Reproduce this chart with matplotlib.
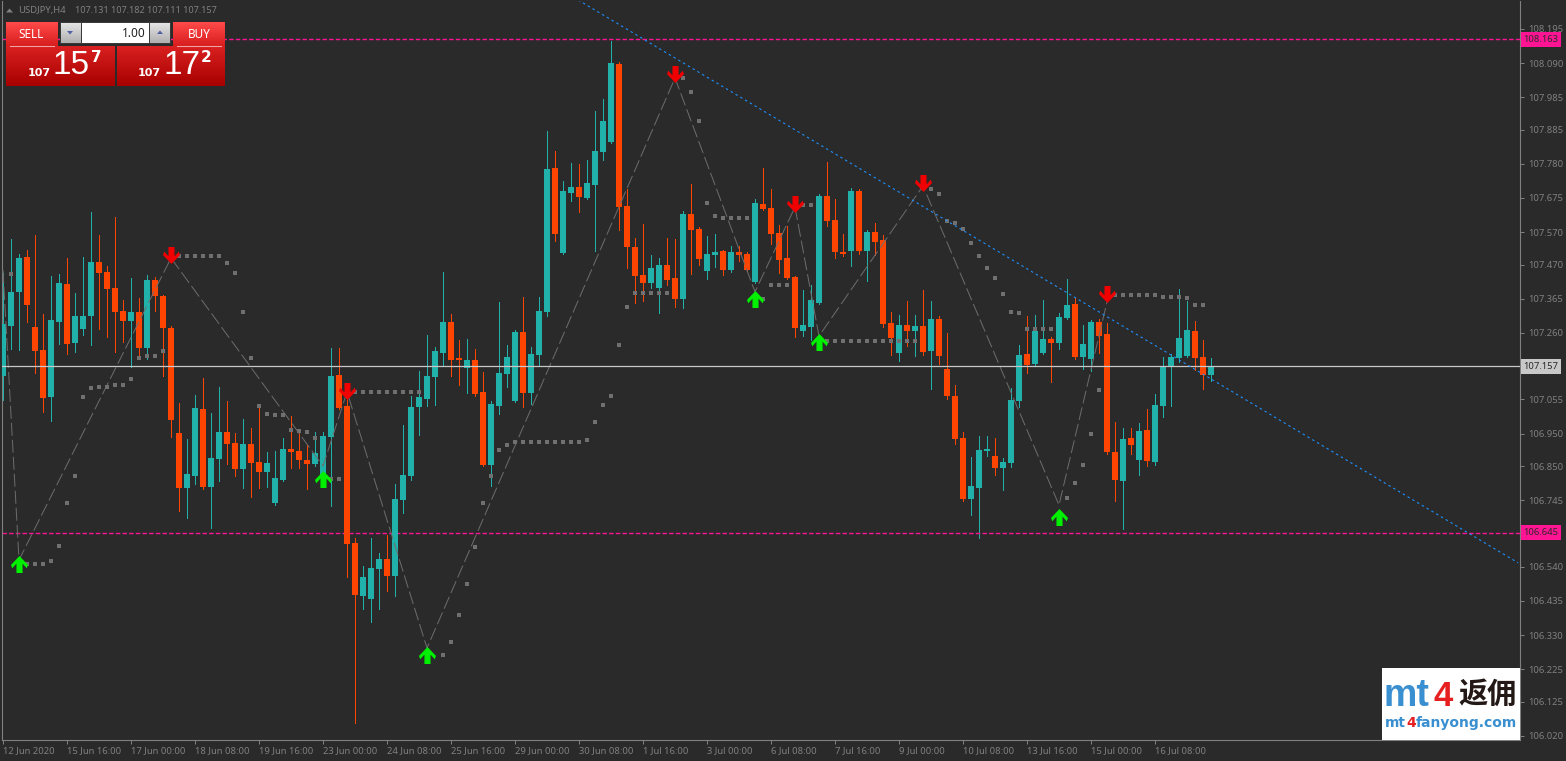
import numpy as np
import matplotlib
matplotlib.use("Agg")
import matplotlib.pyplot as plt
from matplotlib.patches import Rectangle, Polygon
from matplotlib.path import Path

# candles (USDJPY H4)
opens = [107.127,107.281,107.386,107.493,107.278,107.207,107.062,107.293,107.410,107.229,
         107.272,107.312,107.478,107.447,107.398,107.327,107.296,107.324,107.213,107.422,
         107.374,107.275,106.952,106.782,106.819,107.025,106.785,106.872,106.955,106.921,
         106.841,106.918,106.862,106.832,106.736,106.807,106.902,106.896,106.869,106.856,
         106.822,106.939,107.130,107.035,106.613,106.450,106.441,106.533,106.564,106.512,
         106.746,106.819,107.032,107.056,107.124,107.198,107.293,107.182,107.152,107.176,
         107.078,106.853,107.035,107.133,107.050,107.262,107.075,107.192,107.324,107.767,
         107.506,107.690,107.709,107.675,107.715,107.816,107.847,108.087,107.650,107.524,
         107.438,107.413,107.398,107.469,107.429,107.364,107.626,107.579,107.450,107.499,
         107.512,107.453,107.509,107.502,107.416,107.656,107.644,107.567,107.490,107.432,
         107.266,107.278,107.352,107.681,107.607,107.509,107.512,107.696,107.512,107.570,
         107.545,107.290,107.198,107.284,107.266,107.281,107.204,107.302,107.149,107.066,
         106.936,106.749,106.782,106.896,106.881,106.844,106.859,107.050,107.195,107.164,
         107.198,107.241,107.229,107.306,107.349,107.186,107.179,107.293,107.256,106.893,
         106.804,106.936,106.869,106.961,106.862,107.035,107.158,107.182,107.189,107.266,
         107.186,107.131]
closes = [107.287,107.386,107.490,107.346,107.204,107.059,107.299,107.413,107.226,107.312,
          107.312,107.478,107.444,107.395,107.324,107.296,107.324,107.213,107.422,107.373,
          107.275,106.992,106.782,106.826,107.029,106.785,106.875,106.955,106.918,106.841,
          106.918,106.859,106.832,106.859,106.813,106.902,106.893,106.869,106.856,106.890,
          106.942,107.127,107.029,106.610,106.453,106.509,106.536,106.564,106.512,106.749,
          106.822,107.032,107.062,107.127,107.204,107.293,107.176,107.176,107.176,107.072,
          106.853,107.041,107.136,107.186,107.262,107.075,107.195,107.327,107.764,107.564,
          107.696,107.709,107.678,107.721,107.819,107.912,108.090,107.647,107.524,107.435,
          107.413,107.459,107.469,107.422,107.364,107.626,107.576,107.487,107.502,107.509,
          107.453,107.509,107.499,107.453,107.659,107.641,107.564,107.484,107.429,107.275,
          107.284,107.361,107.681,107.604,107.509,107.502,107.696,107.512,107.570,107.539,
          107.287,107.244,107.284,107.266,107.281,107.201,107.302,107.189,107.066,106.933,
          106.749,106.788,106.899,106.902,106.844,106.862,107.053,107.192,107.161,107.266,
          107.241,107.229,107.309,107.346,107.186,107.226,107.293,107.250,106.893,106.807,
          106.933,106.915,106.958,106.865,107.038,107.158,107.186,107.244,107.269,107.182,
          107.130,107.157]
highs = [107.444,107.549,107.502,107.515,107.561,107.318,107.435,107.441,107.490,107.382,
         107.493,107.632,107.561,107.466,107.616,107.361,107.429,107.367,107.438,107.432,
         107.376,107.281,107.044,106.933,107.069,107.121,107.013,107.093,107.050,106.952,
         106.995,106.967,107.035,106.893,106.896,106.936,107.004,106.952,106.915,106.955,
         106.955,107.213,107.213,107.106,106.629,106.542,106.629,106.582,106.638,106.795,
         106.976,107.066,107.142,107.253,107.216,107.447,107.318,107.238,107.241,107.210,
         107.139,107.050,107.355,107.222,107.269,107.370,107.216,107.370,107.881,107.819,
         107.727,107.782,107.779,107.792,107.942,107.979,108.158,108.092,107.702,107.552,
         107.595,107.499,107.490,107.552,107.549,107.635,107.718,107.586,107.558,107.564,
         107.514,107.527,107.527,107.508,107.672,107.767,107.702,107.592,107.589,107.435,
         107.392,107.407,107.687,107.785,107.672,107.564,107.706,107.702,107.576,107.598,
         107.561,107.324,107.315,107.358,107.315,107.392,107.358,107.312,107.259,107.099,
         106.955,106.878,106.942,106.942,106.936,106.875,107.090,107.222,107.312,107.315,
         107.361,107.247,107.321,107.425,107.367,107.284,107.299,107.302,107.290,106.985,
         106.967,106.967,106.982,107.025,107.072,107.186,107.195,107.395,107.358,107.296,
         107.238,107.182]
lows = [107.053,107.210,107.207,107.293,107.136,107.016,106.989,107.226,107.195,107.201,
        107.253,107.222,107.272,107.247,107.201,107.232,107.155,107.182,107.179,107.327,
        107.127,106.939,106.712,106.690,106.795,106.779,106.659,106.804,106.856,106.819,
        106.782,106.755,106.782,106.785,106.730,106.805,106.844,106.844,106.779,106.850,
        106.807,106.727,107.025,106.509,106.059,106.410,106.370,106.410,106.466,106.450,
        106.705,106.807,106.946,107.035,107.038,107.161,107.127,107.099,107.075,107.066,
        106.850,106.788,107.010,107.093,107.047,107.032,107.041,107.158,107.312,107.542,
        107.504,107.666,107.632,107.673,107.512,107.792,107.845,107.576,107.459,107.352,
        107.358,107.398,107.321,107.407,107.339,107.336,107.441,107.469,107.425,107.462,
        107.438,107.448,107.481,107.451,107.414,107.638,107.533,107.444,107.425,107.247,
        107.250,107.238,107.350,107.589,107.490,107.496,107.466,107.502,107.419,107.499,
        107.278,107.192,107.173,107.219,107.189,107.192,107.087,107.164,107.056,106.918,
        106.742,106.699,106.629,106.881,106.822,106.776,106.847,107.032,107.136,107.162,
        107.196,107.109,107.210,107.304,107.179,107.149,107.142,107.198,106.887,106.742,
        106.656,106.887,106.822,106.850,106.853,107.001,107.035,107.170,107.187,107.145,
        107.087,107.111]

# zigzag turning points
zigzag_bars = [0, 2, 21, 40, 43, 53, 84, 94, 99, 102, 115, 132, 138]
zigzag_prices = [107.453, 106.561, 107.490, 106.850, 107.078, 106.290, 108.044,
                 107.386, 107.647, 107.250, 107.712, 106.730, 107.355]

# arrows
sell_bars = [21, 43, 84, 99, 115, 138]
sell_prices = [107.499, 107.081, 108.056, 107.656, 107.721, 107.379]
buy_bars = [2, 40, 53, 94, 102, 132]
buy_prices = [106.549, 106.810, 106.269, 107.364, 107.232, 106.693]

# grey dotted indicator
dot_bars = [1, 3, 4, 5, 6, 7, 8, 9, 10, 11, 12, 13, 14, 15, 16, 17, 18, 19, 20,
            22, 23, 24, 25, 26, 27, 28, 29, 30, 31, 32, 33, 34, 35, 36, 37, 38, 39, 41, 42,
            44, 45, 46, 47, 48, 49, 50, 51, 52,
            55, 56, 57, 58, 59, 60, 61, 62, 63, 64, 65, 66, 67, 68, 69, 70, 71, 72, 73, 74, 75, 76,
            77, 78, 79, 80, 81, 82, 83,
            85, 86, 87, 88, 89, 90, 91, 92, 93, 95, 96, 97, 98, 100, 101,
            103, 104, 105, 106, 107, 108, 109, 110, 111, 112, 113, 114,
            116, 117, 118, 119, 120, 121, 122, 123, 124, 125, 126, 127, 128, 129, 130, 131,
            133, 134, 135, 136, 137, 139, 140, 141, 142, 143, 144, 145, 146, 147, 148, 149, 150]
dot_prices = [107.441, 106.549, 106.549, 106.549, 106.558, 106.604, 106.736, 106.819, 107.062,
              107.090, 107.093, 107.093, 107.099, 107.099, 107.118, 107.182, 107.189, 107.189, 107.204,
              107.496, 107.496, 107.496, 107.496, 107.496, 107.496, 107.475, 107.444, 107.324, 107.182,
              107.035, 107.010, 107.007, 107.007, 106.961, 106.958, 106.955, 106.936, 106.810, 106.810,
              107.078, 107.078, 107.078, 107.078, 107.078, 107.078, 107.078, 107.078, 107.078,
              106.269, 106.309, 106.392, 106.487, 106.601, 106.736, 106.819, 106.899, 106.915,
              106.924, 106.924, 106.924, 106.924, 106.924, 106.924, 106.924, 106.924, 106.924,
              106.930, 106.985, 107.038, 107.066,
              107.222, 107.339, 107.382, 107.382, 107.382, 107.382, 107.382,
              108.044, 108.001, 107.912, 107.659, 107.619, 107.613, 107.613, 107.613, 107.613,
              107.364, 107.407, 107.407, 107.407, 107.653, 107.653,
              107.235, 107.235, 107.235, 107.235, 107.235, 107.235, 107.235, 107.235, 107.235,
              107.235, 107.235, 107.235,
              107.702, 107.687, 107.604, 107.598, 107.579, 107.536, 107.496, 107.459, 107.429,
              107.379, 107.324, 107.321, 107.272, 107.272, 107.272, 107.272,
              106.752, 106.798, 106.853, 106.949, 107.084,
              107.376, 107.376, 107.376, 107.376, 107.376, 107.376, 107.370, 107.370, 107.370,
              107.367, 107.346, 107.346]

# trend line end points and price levels
trend_bars = [71.9, 189.4]
trend_prices = [108.284, 106.552]
level_high = 108.163
level_low = 106.645
last_price = 107.157

y_ticks = [108.195, 108.090, 107.985, 107.885, 107.780, 107.675, 107.570, 107.470, 107.365,
           107.260, 107.055, 106.950, 106.850, 106.745, 106.540, 106.435, 106.330, 106.225,
           106.125, 106.020]
x_tick_bars = [0, 8, 16, 24, 32, 40, 48, 56, 64, 72, 80, 88, 96, 104, 112, 120, 128, 136, 144]
x_tick_labels = ["12 Jun 2020", "15 Jun 16:00", "17 Jun 00:00", "18 Jun 08:00", "19 Jun 16:00",
                 "23 Jun 00:00", "24 Jun 08:00", "25 Jun 16:00", "29 Jun 00:00", "30 Jun 08:00",
                 "1 Jul 16:00", "3 Jul 00:00", "6 Jul 08:00", "7 Jul 16:00", "9 Jul 00:00",
                 "10 Jul 08:00", "13 Jul 16:00", "15 Jul 00:00", "16 Jul 08:00"]

BG = "#2a2a2a"
UP = "#20b2aa"
DOWN = "#ff4500"
GREY = "#808080"
W, H = 1566, 761
plt.rcParams["font.family"] = ["Noto Sans", "DejaVu Sans"]

fig = plt.figure(figsize=(W / 100, H / 100), dpi=100, facecolor=BG)
ax = fig.add_axes([2 / W, (H - 740) / H, 1518 / W, 739 / H], facecolor=BG)
ax.set_xlim(-0.125, 189.625)
ax.set_ylim(106.007, 108.281)

ax.plot(zigzag_bars, zigzag_prices, color="#6c6c6c", lw=0.72, ls=(0, (13, 4)), zorder=4)

# candles
o = np.array(opens)
c = np.array(closes)
x = np.arange(len(o))
up = c >= o
colors = np.where(up, UP, DOWN)
ax.vlines(x, lows, highs, colors=colors, lw=0.72, zorder=2, antialiased=False)
ax.bar(x, np.maximum(np.abs(c - o), 0.004), bottom=np.minimum(o, c), width=0.63,
       color=colors, zorder=3, antialiased=False)

ax.plot(dot_bars, dot_prices, ls="none", marker="s", ms=2.3, mew=0, color="#707070", zorder=5)
ax.plot(trend_bars, trend_prices, color="#1e90ff", lw=0.8, ls=(0, (2.2, 2.8)), zorder=5)

ax.axhline(level_high, color="#ff1493", lw=1.0, ls=(0, (3.2, 1.6)), zorder=2.5)
ax.axhline(level_low, color="#ff1493", lw=1.0, ls=(0, (3.2, 1.6)), zorder=2.5)
ax.axhline(last_price, color="#c8c8c8", lw=0.9, zorder=4)

# arrow glyphs, swept back wings round a short stem
up_arrow = Path([(0, 1), (1, -0.05), (0.85, -0.45), (0.36, 0.1), (0.36, -1), (-0.36, -1), (-0.36, 0.1),
                 (-0.85, -0.45), (-1, -0.05), (0, 1)], closed=True)
down_arrow = Path([(px, -py) for px, py in up_arrow.vertices], closed=True)
ax.scatter(sell_bars, sell_prices, marker=down_arrow, s=150, color="#f00000", lw=0, zorder=6)
ax.scatter(buy_bars, buy_prices, marker=up_arrow, s=150, color="#00f000", lw=0, zorder=6)

for side in ["left", "right", "bottom"]:
    ax.spines[side].set_color(GREY)
    ax.spines[side].set_linewidth(0.8)
ax.spines["top"].set_visible(False)

ax.yaxis.tick_right()
ax.set_yticks(y_ticks, labels=[f"{v:.3f}" for v in y_ticks])
ax.tick_params(axis="y", colors=GREY, labelsize=6.8, length=3, width=0.72, pad=3)
ax.set_xticks(x_tick_bars, labels=x_tick_labels, ha="left")
ax.tick_params(axis="x", colors=GREY, labelsize=6.8, length=3, width=0.72, pad=1.5)

# price tags on the right scale
for price, face in [(level_high, "#ff1493"), (level_low, "#ff1493"), (last_price, "#c8c8c8")]:
    ax.text(1.0022, price, f"{price:.3f}", transform=ax.get_yaxis_transform(), fontsize=6.8,
            color="#2a2a2a", ha="left", va="center", clip_on=False, zorder=8,
            bbox=dict(fc=face, ec="none", pad=2))

# overlay in pixel coordinates for the header, trade panel and logo
ov = fig.add_axes([0, 0, 1, 1], facecolor="none")
ov.set_axis_off()


def grad(x0, x1, y0, y1, top, bottom):
    a = np.array(matplotlib.colors.to_rgb(top))
    b = np.array(matplotlib.colors.to_rgb(bottom))
    t = np.linspace(0, 1, 32)[:, None, None]
    ov.imshow(a[None, None, :] * (1 - t) + b[None, None, :] * t,
              extent=[x0, x1, y1, y0], aspect="auto", zorder=2)


ov.add_patch(Polygon([(6, 12.5), (13, 12.5), (9.5, 8.5)], fc=GREY, ec="none"))
ov.text(18, 10.5, "USDJPY,H4", color=GREY, fontsize=6.8, va="center")
ov.text(75, 10.5, "107.131 107.182 107.111 107.157", color=GREY, fontsize=6.5, va="center")

grad(6, 58, 22, 46, "#ff4a4a", "#d81e1e")
grad(173, 225, 22, 46, "#ff4a4a", "#d81e1e")
grad(6, 115, 46, 86, "#d92020", "#a80000")
grad(117, 225, 46, 86, "#d92020", "#a80000")
ov.plot([10, 54], [46, 46], color="#f0a0a0", lw=0.8, zorder=3)
ov.plot([177, 221], [46, 46], color="#f0a0a0", lw=0.8, zorder=3)
ov.add_patch(Rectangle((60, 22), 111, 22, fc="#3a3a3a", ec="none", zorder=2))
grad(61, 81, 23, 43, "#e4e4e4", "#b0b0b0")
grad(150, 170, 23, 43, "#e4e4e4", "#b0b0b0")
ov.add_patch(Rectangle((82, 23), 67, 20, fc="white", ec="none", zorder=3))
ov.add_patch(Polygon([(67, 31), (73, 31), (70, 34.5)], fc="#5060a0", ec="none", zorder=4))
ov.add_patch(Polygon([(157, 34), (163, 34), (160, 30.5)], fc="#5060a0", ec="none", zorder=4))
ov.text(146, 33.5, "1.00", color="#202020", fontsize=8.5, ha="right", va="center", zorder=5)
ov.text(31, 34, "SELL", color="white", fontsize=8.5, ha="center", va="center", zorder=5)
ov.text(199, 34, "BUY", color="white", fontsize=8.5, ha="center", va="center", zorder=5)
for x0, big, small in [(39, "15", "7"), (149, "17", "2")]:
    ov.text(x0, 73, "107", color="white", fontsize=8, fontweight="bold", family="DejaVu Sans",
            ha="center", va="center", zorder=5)
    ov.text(x0 + 32.5, 66, big, color="white", fontsize=24, family="Liberation Sans",
            ha="center", va="center", zorder=5)
    ov.text(x0 + 57.5, 57, small, color="white", fontsize=11, fontweight="bold", family="DejaVu Sans",
            ha="center", va="center", zorder=5)

ov.add_patch(Rectangle((1382, 668), 138, 72, fc="white", ec="none", zorder=6))
ov.text(1384, 706, "mt", color="#3a8fd0", fontsize=27, fontweight="bold", family="Liberation Sans",
        va="baseline", zorder=7)
ov.text(1434, 706, "4", color="#e62020", fontsize=25, fontweight="bold", family="Liberation Sans",
        va="baseline", zorder=7)
ov.text(1488, 694, "返佣", color="#231815", fontsize=21, fontweight="bold", family="Noto Sans CJK SC",
        ha="center", va="center", zorder=7)
ov.text(1385, 727, "mt", color="#3a8fd0", fontsize=10, fontweight="bold", family="DejaVu Sans",
        va="baseline", zorder=7)
ov.text(1406, 727, "4", color="#e62020", fontsize=10, fontweight="bold", family="DejaVu Sans",
        va="baseline", zorder=7)
ov.text(1416, 727, "fanyong.com", color="#3a8fd0", fontsize=10, fontweight="bold", family="DejaVu Sans",
        va="baseline", zorder=7)

ov.set_xlim(0, W)
ov.set_ylim(H, 0)

fig.savefig("out.png", dpi=100, facecolor=BG)
plt.close(fig)
